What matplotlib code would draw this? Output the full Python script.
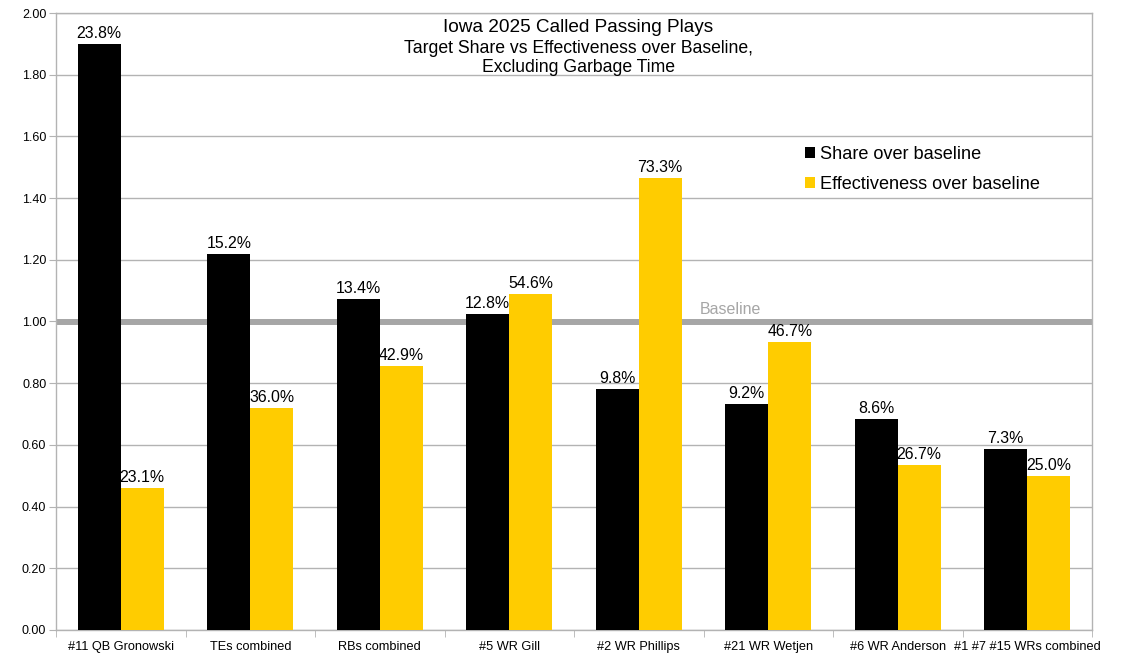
import numpy as np
import matplotlib.pyplot as plt
from matplotlib.ticker import FixedLocator, MultipleLocator

plt.rcParams['font.family'] = ['Liberation Sans', 'DejaVu Sans']

# data
players = ["#11 QB Gronowski", "TEs combined", "RBs combined", "#5 WR Gill",
           "#2 WR Phillips", "#21 WR Wetjen", "#6 WR Anderson", "#1 #7 #15 WRs combined"]
share = [1.90, 1.22, 1.073, 1.024, 0.781, 0.733, 0.684, 0.587]
effect = [0.46, 0.72, 0.856, 1.089, 1.465, 0.934, 0.535, 0.499]
share_labels = ["23.8%", "15.2%", "13.4%", "12.8%", "9.8%", "9.2%", "8.6%", "7.3%"]
effect_labels = ["23.1%", "36.0%", "42.9%", "54.6%", "73.3%", "46.7%", "26.7%", "25.0%"]
baseline = 1.0

grid_col = '#b3b3b3'
yellow = '#ffcc00'

fig = plt.figure(figsize=(11.38, 6.68), dpi=100)
ax = fig.add_axes([56 / 1138, 38 / 668, 1036 / 1138, 617 / 668])

x = np.arange(len(players))
w = 0.332

ax.axhline(baseline, color='#a6a6a6', lw=4.3, zorder=2)
ax.bar(x - w / 2, share, w, color='black', label='Share over baseline', zorder=3)
ax.bar(x + w / 2, effect, w, color=yellow, label='Effectiveness over baseline', zorder=3)

for xi, v, s in zip(x, share, share_labels):
    ax.text(xi - w / 2, v + 0.01, s, ha='center', va='bottom', fontsize=11.4, zorder=4)
for xi, v, s in zip(x, effect, effect_labels):
    ax.text(xi + w / 2, v + 0.01, s, ha='center', va='bottom', fontsize=11.4, zorder=4)

ax.text(4.47, 1.015, "Baseline", color='#a6a6a6', fontsize=11.5, ha='left', va='bottom')

ax.set_xlim(-0.5, len(players) - 0.5)
ax.set_ylim(0, 2.0)
ax.yaxis.set_major_locator(MultipleLocator(0.2))
ax.yaxis.set_major_formatter(lambda v, p: f"{v:.2f}")
ax.set_xticks(x)
ax.set_xticklabels(players)
ax.xaxis.set_minor_locator(FixedLocator(np.arange(-0.5, len(players), 1.0)))
ax.tick_params(axis='x', which='major', length=0, pad=8, labelsize=9.2)
ax.tick_params(axis='x', which='minor', length=5, color=grid_col, direction='out')
ax.tick_params(axis='y', length=5, color=grid_col, labelsize=9, pad=2)

ax.grid(axis='y', color=grid_col, lw=1, zorder=0)
ax.set_axisbelow(True)
for sp in ax.spines.values():
    sp.set_color(grid_col)
    sp.set_linewidth(1)

ax.text(0.504, 0.991, "Iowa 2025 Called Passing Plays", transform=ax.transAxes,
        ha='center', va='top', fontsize=13.7)
ax.text(0.504, 0.957, "Target Share vs Effectiveness over Baseline,\nExcluding Garbage Time",
        transform=ax.transAxes, ha='center', va='top', fontsize=12.7, linespacing=1.2)

ax.legend(loc='upper left', bbox_to_anchor=(0.716, 0.797), frameon=False, fontsize=13.1,
          handlelength=0.55, handleheight=0.55, handletextpad=0.25, labelspacing=0.72,
          borderaxespad=0)

fig.savefig("out.png", dpi=100)
